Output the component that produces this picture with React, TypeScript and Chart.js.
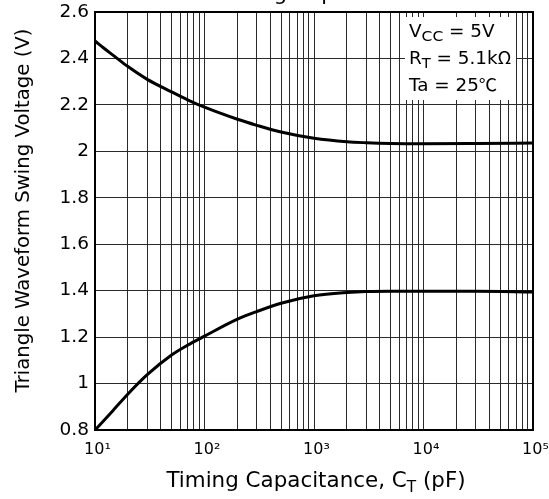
import React, { useEffect, useRef } from 'react';
import { Chart, registerables } from 'chart.js';

Chart.register(...registerables);

// ---- data ----
const capacitancePF = [10, 12, 15, 20, 30, 50, 70, 100, 200, 300, 500, 1000, 2000, 3000, 5000, 10000, 30000, 100000];
const upperSwingV = [2.475, 2.445, 2.41, 2.365, 2.31, 2.256, 2.222, 2.19, 2.138, 2.112, 2.083, 2.056, 2.041, 2.037, 2.034, 2.033, 2.034, 2.036];
const lowerSwingV = [0.8, 0.84, 0.89, 0.955, 1.038, 1.123, 1.165, 1.204, 1.277, 1.31, 1.346, 1.378, 1.392, 1.396, 1.397, 1.397, 1.397, 1.394];

const xMin = 10;
const xMax = 100000;
const yMin = 0.8;
const yMax = 2.6;
const yStep = 0.2;
const decadeLabels: Record<number, string> = { 10: '10¹', 100: '10²', 1000: '10³', 10000: '10⁴', 100000: '10⁵' };

const yAxisTitle = 'Triangle Waveform Swing Voltage (V)';
const topTitleLastLine = 'Timing Capacitance';
type Part = { t: string; sub?: boolean; font?: string; subScale?: number };
const xAxisTitle: Part[] = [{ t: 'Timing Capacitance, C' }, { t: 'T', sub: true }, { t: ' (pF)' }];
const conditionLines: Part[][] = [
  [{ t: 'V' }, { t: 'CC', sub: true, subScale: 0.85 }, { t: ' = 5V' }],
  [{ t: 'R' }, { t: 'T', sub: true, subScale: 0.8 }, { t: ' = 5.1k' }, { t: 'Ω', font: "'Noto Sans CJK JP', 'DejaVu Serif', serif" }],
  [{ t: 'Ta = 25' }, { t: '℃', font: "'Noto Sans CJK JP', 'DejaVu Sans', sans-serif" }],
];

const FAMILY = "'DejaVu Sans', 'Liberation Sans', Arial, sans-serif";

function drawRich(
  ctx: CanvasRenderingContext2D,
  x: number,
  y: number,
  parts: Part[],
  size: number,
  align: 'left' | 'center',
  hScale = 1
) {
  const fonts = parts.map((p) => `${p.sub ? (size * (p.subScale ?? 0.72)).toFixed(1) : size}px ${p.font || FAMILY}`);
  const widths = parts.map((p, i) => {
    ctx.font = fonts[i];
    return ctx.measureText(p.t).width;
  });
  const total = widths.reduce((a, b) => a + b, 0) * hScale;
  const startX = align === 'center' ? x - total / 2 : x;
  ctx.save();
  ctx.translate(startX, y);
  ctx.scale(hScale, 1);
  ctx.textAlign = 'left';
  ctx.textBaseline = 'alphabetic';
  let cx = 0;
  parts.forEach((p, i) => {
    ctx.font = fonts[i];
    ctx.fillText(p.t, cx, p.sub ? size * 0.22 : 0);
    cx += widths[i];
  });
  ctx.restore();
}

const decorPlugin = {
  id: 'decor',
  afterDatasetsDraw(chart: any) {
    const { ctx, chartArea: a } = chart;
    ctx.save();
    // condition box
    ctx.fillStyle = '#fff';
    ctx.fillRect(405, 17, 111, 83);
    ctx.fillStyle = '#000';
    conditionLines.forEach((line, i) => drawRich(ctx, 409, 37 + i * 27, line, 17, 'left', 1.08));
    // frame
    ctx.strokeStyle = '#000';
    ctx.lineWidth = 2;
    ctx.strokeRect(a.left, a.top, a.right - a.left, a.bottom - a.top);
    ctx.restore();
  },
  afterDraw(chart: any) {
    const { ctx, chartArea: a } = chart;
    ctx.save();
    ctx.fillStyle = '#000';
    const cx = (a.left + a.right) / 2;
    drawRich(ctx, cx + 2, 487, xAxisTitle, 21, 'center', 1.02);
    drawRich(ctx, cx + 6, 0, [{ t: topTitleLastLine }], 21, 'center');
    // y axis title
    ctx.translate(28.5, 210.5);
    ctx.rotate(-Math.PI / 2);
    drawRich(ctx, 0, 0, [{ t: yAxisTitle }], 19.7, 'center');
    ctx.restore();
  },
};

export default function App() {
  const ref = useRef<HTMLCanvasElement | null>(null);
  useEffect(() => {
    if (!ref.current) return;
    const mk = (ys: number[]) => capacitancePF.map((c, i) => ({ x: c, y: ys[i] }));
    const zeroPad = (scale: any) => {
      scale.paddingLeft = 0;
      scale.paddingRight = 0;
      scale.paddingTop = 0;
      scale.paddingBottom = 0;
    };
    const chart = new Chart(ref.current, {
      type: 'line',
      data: {
        datasets: [
          { data: mk(upperSwingV), borderColor: '#000', borderWidth: 3, pointRadius: 0, cubicInterpolationMode: 'monotone', fill: false },
          { data: mk(lowerSwingV), borderColor: '#000', borderWidth: 3, pointRadius: 0, cubicInterpolationMode: 'monotone', fill: false },
        ],
      },
      options: {
        responsive: false,
        animation: false,
        events: [],
        layout: { padding: { left: 0, right: 16, top: 12, bottom: 0 } },
        plugins: { legend: { display: false }, tooltip: { enabled: false }, title: { display: false } },
        scales: {
          x: {
            type: 'logarithmic',
            min: xMin,
            max: xMax,
            border: { display: false },
            grid: { color: '#2a2a2a', lineWidth: 1, drawTicks: false },
            afterBuildTicks: (scale: any) => {
              const ticks: { value: number }[] = [];
              for (let d = xMin; d < xMax; d *= 10) {
                for (let m = 1; m < 10; m++) ticks.push({ value: d * m });
              }
              ticks.push({ value: xMax });
              scale.ticks = ticks;
            },
            afterFit: (scale: any) => {
              scale.height = 69;
              zeroPad(scale);
            },
            ticks: {
              autoSkip: false,
              maxRotation: 0,
              minRotation: 0,
              padding: 10,
              labelOffset: 2.5,
              color: '#000',
              font: { family: FAMILY, size: 16 },
              callback: (v: any) => decadeLabels[Math.round(Number(v))] ?? '',
            },
          },
          y: {
            type: 'linear',
            min: yMin,
            max: yMax,
            border: { display: false },
            grid: { color: '#2a2a2a', lineWidth: 1, drawTicks: false },
            afterFit: (scale: any) => {
              scale.width = 95;
              zeroPad(scale);
            },
            ticks: {
              stepSize: yStep,
              padding: 6,
              color: '#000',
              font: { family: FAMILY, size: 18.5 },
              callback: (v: any) => String(Math.round(Number(v) * 10) / 10),
            },
          },
        },
      },
      plugins: [decorPlugin],
    } as any);
    return () => chart.destroy();
  }, []);
  return (
    <div style={{ position: 'fixed', left: 0, top: 0, width: 549, height: 499, background: '#fff' }}>
      <canvas ref={ref} width={549} height={499} style={{ display: 'block' }} />
    </div>
  );
}
